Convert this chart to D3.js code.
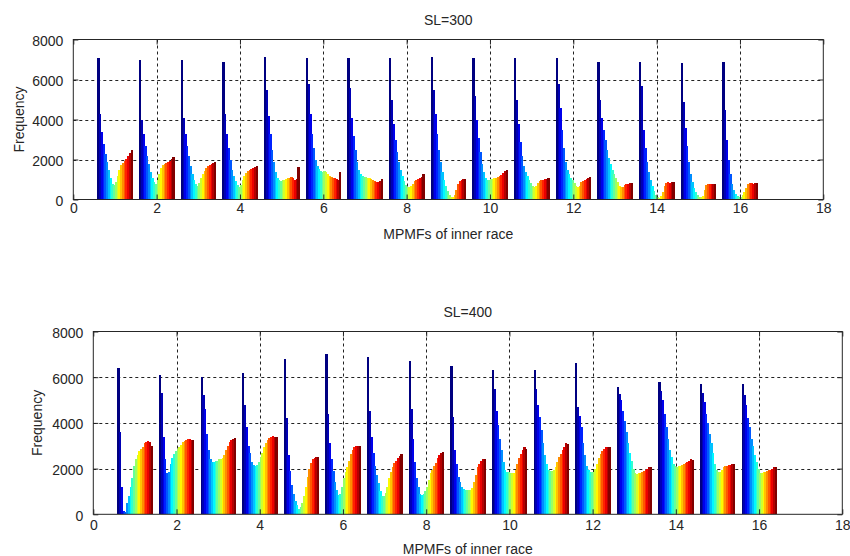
<!DOCTYPE html>
<html>
<head>
<meta charset="utf-8">
<script src="https://cdn.jsdelivr.net/npm/d3@7"></script>
<style>
  html, body { margin: 0; padding: 0; background: #ffffff; }
  svg text { font-family: Arial, "Liberation Sans", sans-serif; fill: #262626; }
</style>
</head>
<body>
<svg id="chart" width="850" height="556"></svg>
<script>
// ---------- data ----------
const groups = [1, 2, 3, 4, 5, 6, 7, 8, 9, 10, 11, 12, 13, 14, 15, 16];
const xTickValues = [0, 2, 4, 6, 8, 10, 12, 14, 16, 18];
const yTickValues = [0, 2000, 4000, 6000, 8000];
const titles = ["SL=300", "SL=400"];
const xLabel = "MPMFs of inner race";
const yLabel = "Frequency";

// 20 histogram bins per group, left (dark blue) to right (dark red)
const freqSL300 = [
  [7100, 4300, 3400, 2800, 2300, 1900, 1500, 1100, 800, 750, 900, 1200, 1500, 1750, 1850, 1950, 2050, 2200, 2350, 2500],
  [7000, 4000, 3300, 2700, 2200, 1800, 1400, 1100, 900, 800, 1000, 1300, 1600, 1750, 1800, 1850, 1900, 1950, 2050, 2150],
  [7000, 4100, 3300, 2700, 2200, 1700, 1300, 1000, 800, 700, 850, 1100, 1300, 1450, 1600, 1700, 1750, 1800, 1850, 1900],
  [6900, 4300, 3300, 2600, 2000, 1500, 1200, 950, 750, 650, 750, 1000, 1200, 1350, 1450, 1500, 1550, 1600, 1650, 1700],
  [7150, 5500, 4200, 3300, 2500, 1900, 1400, 1100, 1000, 950, 1000, 1000, 1050, 1100, 1100, 1150, 1100, 1000, 1050, 1650],
  [7100, 5800, 4300, 3300, 2600, 2000, 1700, 1550, 1450, 1400, 1450, 1400, 1300, 1200, 1150, 1100, 1100, 1050, 1000, 1400],
  [7100, 5600, 4100, 3200, 2500, 1900, 1500, 1300, 1200, 1150, 1150, 1100, 1100, 1050, 1000, 950, 900, 900, 950, 1050],
  [7100, 5000, 3800, 3000, 2400, 1900, 1500, 1200, 950, 750, 650, 650, 700, 800, 950, 1000, 1050, 1100, 1150, 1300],
  [7150, 5500, 4300, 3300, 2500, 1900, 1400, 1000, 700, 450, 250, 150, 150, 250, 500, 800, 950, 1000, 1050, 1050],
  [7100, 5200, 4000, 3100, 2400, 1800, 1400, 1100, 1000, 1000, 1050, 1050, 1100, 1100, 1150, 1200, 1250, 1350, 1450, 1500],
  [7100, 5000, 3800, 2900, 2200, 1700, 1400, 1200, 1000, 850, 700, 650, 700, 850, 950, 1000, 1000, 1050, 1050, 1100],
  [7100, 5800, 4600, 3500, 2600, 1900, 1500, 1300, 1100, 1000, 850, 700, 650, 700, 900, 950, 1000, 1050, 1100, 1150],
  [6900, 5000, 4100, 3500, 3000, 2500, 2100, 1800, 1500, 1300, 1100, 900, 700, 650, 650, 750, 800, 800, 850, 850],
  [6900, 5700, 3500, 2600, 1900, 1400, 1000, 700, 450, 250, 150, 100, 200, 400, 700, 850, 900, 850, 900, 900],
  [6850, 4900, 3600, 2700, 1900, 1300, 900, 600, 400, 250, 150, 150, 200, 500, 750, 800, 800, 800, 800, 800],
  [6900, 4500, 3000, 2000, 1300, 800, 500, 300, 200, 150, 150, 250, 400, 600, 800, 850, 850, 800, 850, 850]
];

const freqSL400 = [
  [6400, 3600, 1200, 150, 100, 500, 800, 1200, 1600, 2100, 2400, 2600, 2750, 2850, 2950, 3100, 3150, 3200, 3150, 3000],
  [6100, 5300, 3400, 2400, 1800, 1850, 2200, 2450, 2650, 2750, 2850, 2950, 3050, 3150, 3200, 3250, 3300, 3300, 3250, 3250],
  [6000, 5200, 4600, 3500, 2800, 2400, 2300, 2300, 2350, 2350, 2400, 2400, 2450, 2600, 2800, 3000, 3150, 3250, 3300, 3330],
  [6200, 4800, 3800, 3000, 2700, 2300, 2150, 2100, 2150, 2300, 2500, 2700, 2950, 3100, 3250, 3350, 3400, 3420, 3400, 3380],
  [6800, 4200, 2600, 1900, 1300, 900, 600, 400, 250, 300, 500, 800, 1200, 1650, 2000, 2250, 2400, 2450, 2500, 2500],
  [7000, 4400, 3100, 2400, 1900, 1400, 1050, 850, 900, 1200, 1600, 1850, 2050, 2350, 2650, 2800, 2950, 3000, 3000, 3000],
  [6870, 4500, 3400, 2700, 2100, 1700, 1350, 1000, 780, 800, 950, 1200, 1600, 1850, 2050, 2250, 2350, 2450, 2550, 2650],
  [6730, 4600, 3300, 2300, 1600, 1200, 900, 830, 900, 1000, 1200, 1500, 1800, 1950, 2100, 2250, 2450, 2600, 2700, 2720],
  [6500, 4250, 2800, 2200, 1650, 1400, 1200, 1100, 1050, 1050, 1050, 1050, 1150, 1400, 1700, 2050, 2200, 2350, 2400, 2430],
  [6300, 5500, 4500, 3900, 3300, 2800, 2300, 1950, 1850, 1850, 1800, 1800, 1800, 1950, 2200, 2450, 2650, 2800, 2950, 2850],
  [6300, 5500, 4800, 4250, 3700, 3100, 2600, 2200, 1950, 1900, 1900, 1950, 2050, 2300, 2500, 2650, 2800, 2950, 3100, 3080],
  [6600, 4700, 4300, 3800, 3100, 2600, 2100, 1950, 1850, 1850, 1850, 2000, 2200, 2450, 2650, 2750, 2850, 2950, 2950, 2940],
  [5550, 5250, 5000, 4500, 4100, 3600, 3100, 2700, 2350, 2000, 1800, 1780, 1800, 1820, 1850, 1900, 1950, 2000, 2050, 2070],
  [5780, 5400, 5000, 4400, 3800, 3300, 2800, 2500, 2200, 2100, 2050, 2100, 2100, 2150, 2200, 2250, 2300, 2350, 2400, 2360],
  [5700, 5300, 4900, 4400, 4000, 3500, 3100, 2700, 2200, 1950, 1850, 1850, 1950, 2050, 2100, 2100, 2150, 2150, 2200, 2215],
  [5700, 5200, 4800, 4200, 3800, 3300, 3000, 2600, 2300, 2000, 1800, 1800, 1850, 1850, 1900, 1950, 1950, 2000, 2050, 2070]
];

// ---------- drawing ----------
const svg = d3.select("#chart");

// MATLAB "jet" colormap
function jet(t) {
  const c = v => Math.max(0, Math.min(1, v));
  const r = c(1.5 - Math.abs(4 * t - 3));
  const g = c(1.5 - Math.abs(4 * t - 2));
  const b = c(1.5 - Math.abs(4 * t - 1));
  return d3.rgb(r * 255, g * 255, b * 255).toString();
}

const GROUP_START = -0.42;   // group left edge relative to the group centre
const GROUP_WIDTH = 0.84;    // total width occupied by one group of bins

function drawPanel(cfg) {
  const x = d3.scaleLinear().domain([0, 18]).range([cfg.left, cfg.right]);
  const y = d3.scaleLinear().domain([0, 8000]).range([cfg.bottom, cfg.top]);
  const g = svg.append("g");

  // grid (behind the bars)
  const grid = g.append("g").attr("stroke", "#222").attr("stroke-width", 1)
    .attr("stroke-dasharray", "3,3");
  grid.selectAll("line.gx").data(xTickValues.filter(v => v > 0 && v < 18)).enter()
    .append("line").attr("class", "gx")
    .attr("x1", d => Math.round(x(d)) + 0.5).attr("x2", d => Math.round(x(d)) + 0.5)
    .attr("y1", cfg.top).attr("y2", cfg.bottom);
  grid.selectAll("line.gy").data(yTickValues.filter(v => v > 0 && v < 8000)).enter()
    .append("line").attr("class", "gy")
    .attr("y1", d => Math.round(y(d)) + 0.5).attr("y2", d => Math.round(y(d)) + 0.5)
    .attr("x1", cfg.left).attr("x2", cfg.right);

  // bars
  const bars = [];
  cfg.data.forEach((vals, gi) => {
    const n = vals.length;
    const w = GROUP_WIDTH / n;
    vals.forEach((v, i) => {
      const x0 = groups[gi] + GROUP_START + i * w;
      bars.push({ x0: x0, x1: x0 + w, v: v, t: i / (n - 1) });
    });
  });
  g.append("g").selectAll("rect").data(bars).enter().append("rect")
    .attr("x", d => x(d.x0))
    .attr("width", d => x(d.x1) - x(d.x0) + 0.45)
    .attr("y", d => y(d.v))
    .attr("height", d => y(0) - y(d.v))
    .attr("fill", d => jet(d.t))
    .attr("shape-rendering", "crispEdges");

  // axes (MATLAB-like: inward ticks, full box)
  const tickLen = 5;
  const bottomAxis = d3.axisBottom(x).tickValues(xTickValues).tickSize(-tickLen).tickPadding(5)
    .tickFormat(d3.format("d"));
  const topAxis = d3.axisTop(x).tickValues(xTickValues).tickSize(-tickLen).tickFormat("");
  const leftAxis = d3.axisLeft(y).tickValues(yTickValues).tickSize(-tickLen).tickPadding(5 + tickLen)
    .tickFormat(d3.format("d"));
  const rightAxis = d3.axisRight(y).tickValues(yTickValues).tickSize(-tickLen).tickFormat("");

  const styleAxis = sel => {
    sel.selectAll("path.domain").attr("stroke", "#262626").attr("stroke-width", 1);
    sel.selectAll(".tick line").attr("stroke", "#262626");
    sel.selectAll(".tick text").attr("font-size", 14).attr("fill", "#262626")
      .attr("font-family", "Arial, 'Liberation Sans', sans-serif");
  };
  const ab = g.append("g").attr("transform", `translate(0,${cfg.bottom})`).call(bottomAxis);
  ab.call(styleAxis);
  ab.selectAll(".tick text").attr("dy", cfg.xTickDy);
  const at = g.append("g").attr("transform", `translate(0,${cfg.top})`).call(topAxis);
  at.call(styleAxis);
  const al = g.append("g").attr("transform", `translate(${cfg.left},0)`).call(leftAxis);
  al.call(styleAxis);
  al.selectAll(".tick text").attr("dy", "0.42em");
  const ar = g.append("g").attr("transform", `translate(${cfg.right},0)`).call(rightAxis);
  ar.call(styleAxis);
  [ab, at, al, ar].forEach(a => a.selectAll("path.domain").attr("d", null));
  g.append("rect").attr("x", cfg.left).attr("y", cfg.top)
    .attr("width", cfg.right - cfg.left).attr("height", cfg.bottom - cfg.top)
    .attr("fill", "none").attr("stroke", "#262626").attr("stroke-width", 1);

  // texts
  g.append("text").attr("x", (cfg.left + cfg.right) / 2).attr("y", cfg.top - 20)
    .attr("text-anchor", "middle").attr("dominant-baseline", "central")
    .attr("font-size", 14).text(cfg.title);
  g.append("text").attr("x", (cfg.left + cfg.right) / 2).attr("y", cfg.bottom + cfg.xLabelOffset)
    .attr("text-anchor", "middle").attr("dominant-baseline", "central")
    .attr("font-size", 14).text(xLabel);
  g.append("text")
    .attr("transform", `translate(${cfg.yLabelX},${(cfg.top + cfg.bottom) / 2}) rotate(-90)`)
    .attr("text-anchor", "middle").attr("dominant-baseline", "central")
    .attr("font-size", 14).text(yLabel);
}

drawPanel({ left: 73.3, right: 823.3, top: 39.5, bottom: 199.5, data: freqSL300,
            title: titles[0], xTickDy: "0.6em", xLabelOffset: 34, yLabelX: 19 });
drawPanel({ left: 93.3, right: 842.3, top: 331.5, bottom: 514.3, data: freqSL400,
            title: titles[1], xTickDy: "0.75em", xLabelOffset: 35, yLabelX: 37 });
</script>
</body>
</html>
